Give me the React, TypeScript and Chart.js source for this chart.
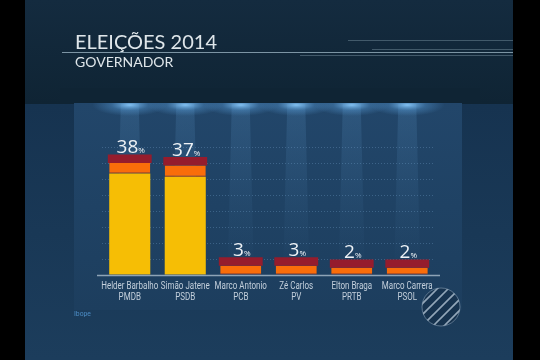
import React, { useEffect, useRef } from "react";
import { Chart, registerables } from "chart.js";

Chart.register(...registerables);

const candidates = ["Helder Barbalho", "Simão Jatene", "Marco Antonio", "Zé Carlos", "Elton Braga", "Marco Carrera"];
const parties = ["PMDB", "PSDB", "PCB", "PV", "PRTB", "PSOL"];
const values = [38, 37, 3, 3, 2, 2];
// visual segments of each stylised bar (percentage-point units)
const yellowPart = [31.9, 30.9, 0, 0, 0, 0];
const orangePart = [3.3, 3.5, 2.9, 2.9, 2.3, 2.3];
const redPart = [2.7, 2.7, 2.7, 2.7, 2.6, 2.6];

const TITLE = "ELEIÇÕES 2014";
const SUBTITLE = "GOVERNADOR";
const SOURCE = "Ibope";

const bgPlugin = {
  id: "bg",
  beforeDraw(chart: any) {
    const { ctx, width, height } = chart;
    const xs = chart.scales.x;
    ctx.save();
    ctx.fillStyle = "#1a3956";
    ctx.fillRect(0, 0, width, height);
    const tg = ctx.createLinearGradient(0, 0, 0, 104);
    tg.addColorStop(0, "#142b3f");
    tg.addColorStop(1, "#0f2434");
    ctx.fillStyle = tg;
    ctx.fillRect(0, 0, width, 104);
    const lg = ctx.createLinearGradient(0, 104, 0, height);
    lg.addColorStop(0, "#163350");
    lg.addColorStop(1, "#1c3d5c");
    ctx.fillStyle = lg;
    ctx.fillRect(0, 104, width, height - 104);
    const pg = ctx.createLinearGradient(0, 103, 0, 310);
    pg.addColorStop(0, "#22466a");
    pg.addColorStop(0.5, "#1f4264");
    pg.addColorStop(1, "#1d3e5e");
    ctx.fillStyle = pg;
    ctx.fillRect(74, 103, 388, 207);
    for (let i = 0; i < candidates.length; i++) {
      const cx = xs.getPixelForValue(i);
      const rg = ctx.createLinearGradient(0, 104, 0, 270);
      rg.addColorStop(0, "rgba(110,175,230,0.16)");
      rg.addColorStop(0.6, "rgba(110,175,230,0.06)");
      rg.addColorStop(1, "rgba(110,175,230,0)");
      ctx.fillStyle = rg;
      ctx.beginPath();
      ctx.moveTo(cx - 9, 104);
      ctx.lineTo(cx + 9, 104);
      ctx.lineTo(cx + 13, 270);
      ctx.lineTo(cx - 13, 270);
      ctx.closePath();
      ctx.fill();
      ctx.save();
      ctx.translate(cx, 105);
      ctx.scale(3.4, 1);
      const sg = ctx.createRadialGradient(0, 0, 0, 0, 0, 11);
      sg.addColorStop(0, "rgba(140,205,255,0.9)");
      sg.addColorStop(0.5, "rgba(90,160,220,0.35)");
      sg.addColorStop(1, "rgba(90,160,220,0)");
      ctx.fillStyle = sg;
      ctx.beginPath();
      ctx.arc(0, 0, 11, 0, Math.PI * 2);
      ctx.fill();
      ctx.restore();
    }
    ctx.fillStyle = "#0f2434";
    ctx.fillRect(60, 88, 420, 15);
    ctx.strokeStyle = "rgba(160,185,200,0.75)";
    ctx.lineWidth = 1.2;
    ctx.beginPath();
    ctx.moveTo(62, 52.5);
    ctx.lineTo(513, 52.5);
    ctx.stroke();
    ctx.strokeStyle = "rgba(140,165,180,0.4)";
    ctx.lineWidth = 1;
    ctx.beginPath();
    ctx.moveTo(348, 40.5);
    ctx.lineTo(513, 40.5);
    ctx.moveTo(372, 49.5);
    ctx.lineTo(513, 49.5);
    ctx.moveTo(300, 55.5);
    ctx.lineTo(513, 55.5);
    ctx.stroke();
    ctx.fillStyle = "#dfe6ea";
    ctx.textBaseline = "alphabetic";
    ctx.textAlign = "left";
    ctx.font = "20px Lato";
    ctx.fillText(TITLE, 75, 49);
    ctx.font = "14px Lato";
    ctx.fillText(SUBTITLE, 75, 67);
    ctx.fillStyle = "#4c8cc4";
    ctx.font = "8px Roboto";
    ctx.save();
    ctx.translate(74, 316);
    ctx.scale(0.85, 1);
    ctx.fillText(SOURCE, 0, 0);
    ctx.restore();
    ctx.restore();
  },
  afterDatasetsDraw(chart: any) {
    const { ctx } = chart;
    const xs = chart.scales.x;
    const area = chart.chartArea;
    ctx.save();
    ctx.strokeStyle = "#8ea3b6";
    ctx.lineWidth = 1.5;
    ctx.beginPath();
    ctx.moveTo(97, area.bottom + 0.5);
    ctx.lineTo(440, area.bottom + 0.5);
    ctx.stroke();
    const meta = chart.getDatasetMeta(2);
    ctx.fillStyle = "#eef2f6";
    ctx.textBaseline = "alphabetic";
    for (let i = 0; i < values.length; i++) {
      const el = meta.data[i];
      const cx = xs.getPixelForValue(i);
      const y = el.y - 1;
      const num = String(values[i]);
      ctx.font = "19px 'Open Sans'";
      const w1 = ctx.measureText(num).width;
      ctx.font = "8px 'Open Sans'";
      const w2 = ctx.measureText("%").width;
      const start = cx - (w1 + w2) / 2 + 1;
      ctx.font = "19px 'Open Sans'";
      ctx.textAlign = "left";
      ctx.fillText(num, start, y);
      ctx.font = "8px 'Open Sans'";
      ctx.fillText("%", start + w1, y);
    }
    ctx.fillStyle = "#c3cfdb";
    ctx.textAlign = "center";
    ctx.textBaseline = "middle";
    ctx.font = "10px Roboto";
    for (let i = 0; i < candidates.length; i++) {
      const cx = xs.getPixelForValue(i);
      ctx.save();
      ctx.translate(cx, area.bottom + 11);
      ctx.scale(0.8, 1);
      ctx.fillText(candidates[i], 0, 0);
      ctx.fillText(parties[i], 0, 11);
      ctx.restore();
    }
    ctx.restore();
  },
  afterDraw(chart: any) {
    const { ctx } = chart;
    ctx.save();
    const lx = 441, ly = 307, r = 19;
    ctx.beginPath();
    ctx.arc(lx, ly, r, 0, Math.PI * 2);
    ctx.fillStyle = "rgba(20,45,70,0.6)";
    ctx.fill();
    ctx.strokeStyle = "rgba(170,190,210,0.45)";
    ctx.lineWidth = 1;
    ctx.stroke();
    ctx.clip();
    ctx.strokeStyle = "rgba(200,215,230,0.7)";
    ctx.lineWidth = 1.6;
    for (let k = -4; k <= 4; k++) {
      ctx.beginPath();
      ctx.moveTo(lx - 25 + k * 5.5, ly + 25 + k * 5.5);
      ctx.lineTo(lx + 25 + k * 5.5, ly - 25 + k * 5.5);
      ctx.stroke();
    }
    ctx.restore();
    ctx.save();
    ctx.fillStyle = "#000";
    ctx.fillRect(0, 0, 25, 360);
    ctx.fillRect(513, 0, 27, 360);
    ctx.restore();
  },
};

export default function App() {
  const ref = useRef<HTMLCanvasElement>(null);
  useEffect(() => {
    if (!ref.current) return;
    const chart = new Chart(ref.current, {
      type: "bar",
      data: {
        labels: candidates,
        datasets: [
          {
            data: yellowPart,
            backgroundColor: "#f6be05",
            barPercentage: 0.74,
            categoryPercentage: 1,
            stack: "s",
          },
          {
            data: orangePart,
            backgroundColor: "#f96d0a",
            borderColor: "#c8300f",
            borderWidth: { top: 0, bottom: 1, left: 0, right: 0 },
            borderSkipped: false,
            barPercentage: 0.74,
            categoryPercentage: 1,
            stack: "s",
          },
          {
            data: redPart,
            backgroundColor: "#951c2d",
            barPercentage: 0.79,
            categoryPercentage: 1,
            stack: "s",
          },
        ],
      },
      options: {
        responsive: false,
        animation: false,
        layout: { padding: { left: 102, right: 105, top: 116, bottom: 45 } },
        plugins: { legend: { display: false }, tooltip: { enabled: false }, title: { display: false } },
        scales: {
          x: {
            stacked: true,
            grid: { display: false },
            border: { display: false },
            ticks: { display: false },
            afterFit: (s: any) => {
              s.height = 40;
            },
          },
          y: {
            stacked: true,
            min: 0,
            max: 50,
            ticks: { display: false, stepSize: 5 },
            border: { display: false, dash: [1, 2] },
            grid: {
              color: (c: any) => (c.tick && c.tick.value > 0 && c.tick.value < 45 ? "rgba(130,175,220,0.3)" : "rgba(0,0,0,0)"),
              lineWidth: 1,
              drawTicks: false,
            },
            afterFit: (s: any) => {
              s.width = 0;
            },
          },
        },
      },
      plugins: [bgPlugin],
    });
    return () => chart.destroy();
  }, []);
  return (
    <div style={{ position: "fixed", left: 0, top: 0, width: 540, height: 360 }}>
      <canvas ref={ref} width={540} height={360} style={{ display: "block" }} />
    </div>
  );
}
